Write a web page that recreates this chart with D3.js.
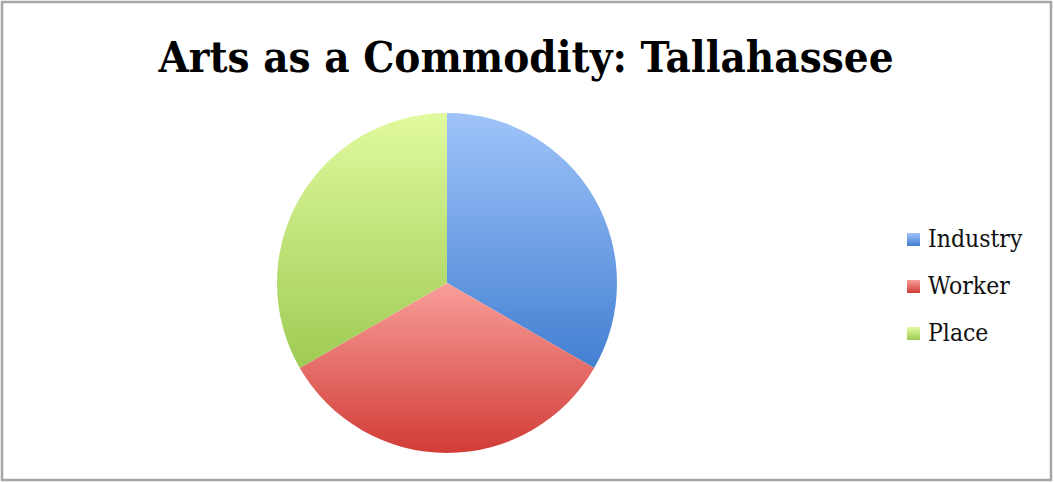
<!DOCTYPE html>
<html><head><meta charset="utf-8">
<script src="https://cdn.jsdelivr.net/npm/d3@7"></script>
<style>html,body{margin:0;padding:0;background:#fff;}</style>
</head><body>
<script>
const categories = ["Industry", "Worker", "Place"];
const values = [1, 1, 1];
const topColors = ["#9fc4f9", "#f89e99", "#e1fa9f"];
const bottomColors = ["#437fd2", "#d23c37", "#9ecb53"];
const title = "Arts as a Commodity: Tallahassee";

const W = 1054, H = 483;
const svg = d3.select("body").append("svg").attr("width", W).attr("height", H);
svg.append("rect").attr("x", 2).attr("y", 2).attr("width", W - 5).attr("height", H - 5)
  .attr("fill", "#fff").attr("stroke", "#a6a6a6").attr("stroke-width", 2.5);

const defs = svg.append("defs");
categories.forEach((c, i) => {
  const g = defs.append("linearGradient").attr("id", "g" + i)
    .attr("x1", 0).attr("y1", 0).attr("x2", 0).attr("y2", 1);
  g.append("stop").attr("offset", "0%").attr("stop-color", topColors[i]);
  g.append("stop").attr("offset", "100%").attr("stop-color", bottomColors[i]);
});

svg.append("text").attr("x", 526).attr("y", 72).attr("text-anchor", "middle")
  .attr("font-family", "DejaVu Serif Condensed, DejaVu Serif").attr("font-weight", "bold")
  .attr("font-size", 43.5).attr("fill", "#000").text(title);

const cx = 447, cy = 283, r = 170;
const pie = d3.pie().sort(null).value(d => d)(values);
const arc = d3.arc().innerRadius(0).outerRadius(r);
svg.append("g").attr("transform", `translate(${cx},${cy})`)
  .selectAll("path").data(pie).join("path")
  .attr("d", arc).attr("fill", (d, i) => `url(#g${i})`);

const leg = svg.append("g").attr("transform", "translate(907,0)");
const rowY = d3.scalePoint().domain(categories).range([239, 333]);
categories.forEach((c, i) => {
  leg.append("rect").attr("x", 0).attr("y", rowY(c) - 6).attr("width", 13).attr("height", 13)
    .attr("fill", `url(#g${i})`);
  leg.append("text").attr("x", 21).attr("y", rowY(c) + 8)
    .attr("font-family", "DejaVu Serif Condensed, DejaVu Serif").attr("font-size", 24.5)
    .attr("fill", "#111").text(c);
});
</script>
</body></html>
